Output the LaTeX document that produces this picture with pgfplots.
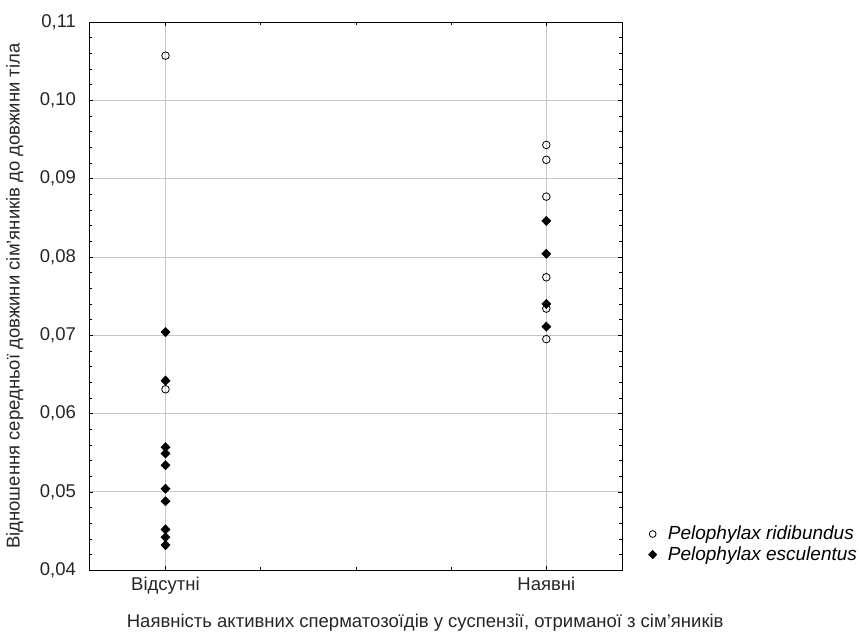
\documentclass[border=0pt]{standalone}
\usepackage{pgfplots}
\pgfplotsset{compat=1.18}
\usepackage{fontspec}
\setmainfont{Liberation Sans}

\pgfplotstableread{
x y
1 0.1057
1 0.0631
2 0.0943
2 0.0924
2 0.0877
2 0.0774
2 0.0734
2 0.0695
}\ridibundus

\pgfplotstableread{
x y
1 0.0704
1 0.0642
1 0.0557
1 0.0549
1 0.0534
1 0.0504
1 0.0488
1 0.0452
1 0.0442
1 0.0432
2 0.0846
2 0.0804
2 0.0740
2 0.0711
}\esculentus

\begin{document}
\fontsize{18.5}{22}\selectfont
\begin{tikzpicture}
\begin{axis}[
  scale only axis,
  width=533pt, height=548pt,
  xmin=0.8, xmax=2.2,
  ymin=0.04, ymax=0.11,
  xtick={1,2},
  xticklabels={Відсутні,Наявні},
  minor xtick={1.25,1.5,1.75},
  ytick={0.04,0.05,...,0.11},
  minor y tick num=4,
  tick align=inside,
  major tick length=4pt,
  minor tick length=3pt,
  tick style={black, line width=0.6pt},
  axis line style={black, line width=0.8pt},
  grid=major,
  major grid style={gray!45, line width=0.7pt},
  /pgf/number format/assume math mode=true,
  /pgf/number format/use comma,
  /pgf/number format/fixed,
  /pgf/number format/fixed zerofill,
  /pgf/number format/precision=2,
  ticklabel style={font=\fontsize{18.5}{22}\selectfont, text=black!85},
  yticklabel style={xshift=-7pt},
  xticklabel style={yshift=-1pt},
  label style={font=\fontsize{18.5}{22}\selectfont, text=black!85},
  xlabel={Наявність активних сперматозоїдів у суспензії, отриманої з сім'яників},
  xlabel style={at={(ticklabel cs:0.63)}, anchor=north, yshift=-7pt},
  ylabel={Відношення середньої довжини сім'яників до довжини тіла},
  ylabel style={yshift=4pt},
  legend style={at={(rel axis cs:1.039,0.085)}, anchor=north west, draw=none,
    font=\fontsize{19}{22}\selectfont\itshape, row sep=0pt, fill=none, inner sep=0pt},
  legend cell align=left,
  legend image code/.code={\path (0pt,0pt) (22pt,0pt); \draw[#1] plot coordinates {(9pt,0pt)};},
]
\addplot[only marks, mark=o, mark size=3.8pt, mark options={line width=0.8pt, fill=white},
  legend image post style={mark size=3.4pt}]
  table[x=x, y=y] {\ridibundus};
\addlegendentry{Pelophylax ridibundus}
\addplot[only marks, mark=diamond*, mark size=4.7pt, mark options={xscale=1.3, fill=black},
  legend image post style={mark size=4.3pt}]
  table[x=x, y=y] {\esculentus};
\addlegendentry{Pelophylax esculentus}
\end{axis}
\path ([yshift=22pt]current axis.north west) ([xshift=-87pt]current axis.south west);
\end{tikzpicture}
\end{document}
